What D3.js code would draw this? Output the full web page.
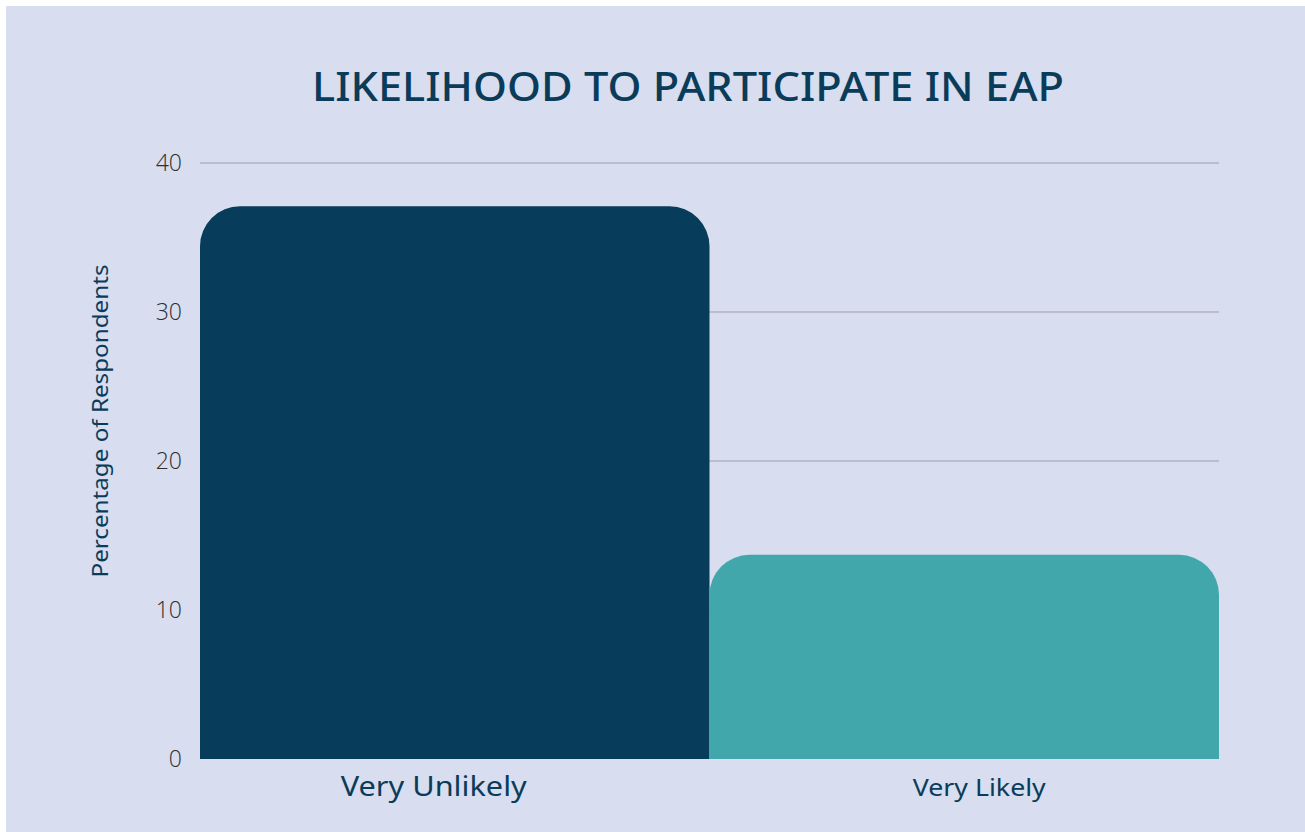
<!DOCTYPE html>
<html>
<head>
<meta charset="utf-8">
<script src="https://cdn.jsdelivr.net/npm/d3@7"></script>
<style>
  body { margin: 0; background: #ffffff; }
  svg { display: block; }
</style>
</head>
<body>
<div id="chart"></div>
<script>
// data
var categories = ["Very Unlikely", "Very Likely"];
var values = [37.1, 13.7];
var barColors = ["#083c5b", "#41a7aa"];
var yTicks = [0, 10, 20, 30, 40];

var W = 1305, H = 832;
var margin = {top: 163, right: 86, bottom: 73, left: 200},
    width = W - margin.left - margin.right,
    height = H - margin.top - margin.bottom;

var svg = d3.select("#chart")
    .append("svg")
    .attr("width", W)
    .attr("height", H);

// panel background (thin white strip on top and left)
svg.append("rect")
    .attr("x", 6).attr("y", 6)
    .attr("width", W - 6).attr("height", H - 6)
    .style("fill", "#d8ddef");

var g = svg.append("g")
    .attr("transform", "translate(" + margin.left + "," + margin.top + ")");

var x = d3.scaleBand()
    .domain(categories)
    .range([0, width])
    .padding(0);

var y = d3.scaleLinear()
    .domain([0, 40])
    .range([height, 0]);

// grid lines
g.selectAll(".grid")
    .data(yTicks.filter(function(d) { return d > 0; }))
  .enter().append("line")
    .attr("class", "grid")
    .attr("x1", 0).attr("x2", width)
    .attr("y1", function(d) { return y(d); })
    .attr("y2", function(d) { return y(d); })
    .style("stroke", "#9b9fae")
    .style("stroke-width", 1);

// y tick labels
g.selectAll(".ytick")
    .data(yTicks)
  .enter().append("text")
    .attr("class", "ytick")
    .attr("x", -18)
    .attr("y", function(d) { return y(d); })
    .attr("dy", "0.36em")
    .style("text-anchor", "end")
    .style("font-family", "'Open Sans', sans-serif")
    .style("font-weight", 300)
    .style("font-size", "23px")
    .style("fill", "#2e2e2e")
    .text(function(d) { return d; });

// bars with rounded top corners
function topRounded(x0, y0, w, h, r) {
    r = Math.min(r, w / 2, h);
    var p = d3.path();
    p.moveTo(x0, y0 + h);
    p.lineTo(x0, y0 + r);
    p.arcTo(x0, y0, x0 + r, y0, r);
    p.lineTo(x0 + w - r, y0);
    p.arcTo(x0 + w, y0, x0 + w, y0 + r, r);
    p.lineTo(x0 + w, y0 + h);
    p.closePath();
    return p.toString();
}

g.selectAll(".bar")
    .data(values)
  .enter().append("path")
    .attr("class", "bar")
    .attr("d", function(d, i) {
        return topRounded(x(categories[i]), y(d), x.bandwidth(), height - y(d), 40);
    })
    .style("fill", function(d, i) { return barColors[i]; });

// category labels
var labelSize = [28, 23];
var labelWidth = [186, 133];
var labelShift = [-21, 15];
g.selectAll(".xlab")
    .data(categories)
  .enter().append("text")
    .attr("class", "xlab")
    .attr("x", function(d, i) { return x(d) + x.bandwidth() / 2 + labelShift[i]; })
    .attr("y", height + 37)
    .style("text-anchor", "middle")
    .style("font-family", "'Noto Sans', sans-serif")
    .style("font-size", function(d, i) { return labelSize[i] + "px"; })
    .style("fill", "#0a3c5a")
    .attr("textLength", function(d, i) { return labelWidth[i]; })
    .attr("lengthAdjust", "spacingAndGlyphs")
    .text(function(d) { return d; });

// axis title
svg.append("text")
    .attr("transform", "translate(108,421) rotate(-90)")
    .style("text-anchor", "middle")
    .style("font-family", "'Noto Sans', sans-serif")
    .style("font-size", "21px")
    .style("fill", "#0a3c5a")
    .attr("textLength", 313)
    .attr("lengthAdjust", "spacingAndGlyphs")
    .text("Percentage of Respondents");

// chart title
svg.append("text")
    .attr("x", 688)
    .attr("y", 101)
    .style("text-anchor", "middle")
    .style("font-family", "'Noto Sans', sans-serif")
    .style("font-weight", 500)
    .style("font-size", "40px")
    .style("fill", "#0a3c5a")
    .attr("textLength", 752)
    .attr("lengthAdjust", "spacingAndGlyphs")
    .text("LIKELIHOOD TO PARTICIPATE IN EAP");
</script>
</body>
</html>
